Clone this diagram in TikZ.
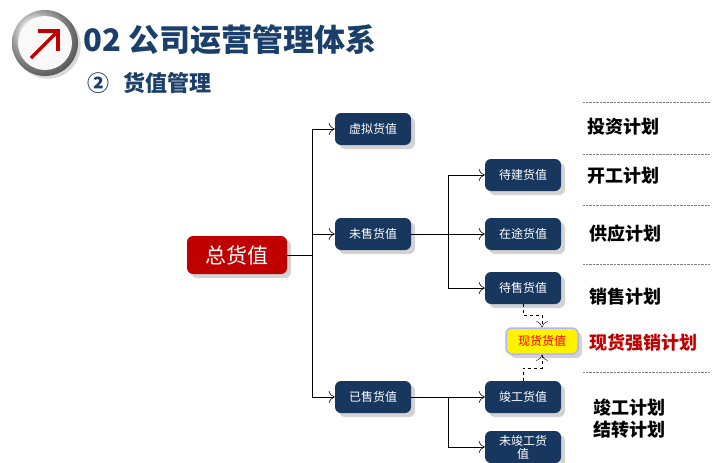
\documentclass[tikz,border=0pt]{standalone}
\usepackage{fontspec}
\setmainfont{Noto Sans CJK SC}
\usetikzlibrary{arrows,arrows.meta,shadows,calc}
\definecolor{navy}{HTML}{17375E}
\definecolor{titleblue}{HTML}{1B3F6B}
\definecolor{boxred}{HTML}{C00000}

\begin{document}
\begin{tikzpicture}[
  x=1pt, y=-1pt,
  font=\small,
  text centered,
  every value/.style={
    rectangle, rounded corners=6pt, fill=navy, text=white,
    minimum width=76pt, minimum height=32pt, font=\fontsize{12}{13}\selectfont,
    drop shadow={shadow xshift=4pt, shadow yshift=-4pt, opacity=.35}
  },
  plan/.style={font=\fontsize{18}{22}\selectfont\bfseries, anchor=west},
  sep/.style={gray, densely dotted},
  link/.style={-{To[length=6pt,width=12pt]}, semithick}
  ]
  \useasboundingbox (0,0) rectangle (718,463);

  % logo and heading
  \shade[ball color=gray!25, drop shadow={opacity=.3}] (45,43) circle (33);
  \fill[gray!5] (45,43) circle (27);
  \draw[boxred, line width=3.5pt] (31,58) -- (57,32);
  \draw[boxred, line width=3.5pt] (38,31) -- (58,31) -- (58,51);
  \node[anchor=west, text=titleblue, font=\fontsize{31}{34}\selectfont\bfseries, inner sep=0pt] (title) at (83,40) {02 公司运营管理体系};
  \node[anchor=west, text=titleblue, font=\fontsize{22}{24}\selectfont\bfseries, inner sep=0pt] (sub) at (87,83) {②\hspace{14pt}货值管理};

  % value tree
  \node[every value, fill=boxred, minimum width=100pt, minimum height=38pt, font=\fontsize{21}{23}\selectfont] (total) at (237,255) {总货值};
  \node[every value] (virtual) at (373,129) {虚拟货值};
  \node[every value] (unsold) at (373,234) {未售货值};
  \node[every value] (sold) at (373,397) {已售货值};
  \node[every value] (tobuild) at (523,175) {待建货值};
  \node[every value] (transit) at (523,234) {在途货值};
  \node[every value] (forsale) at (523,288) {待售货值};
  \node[every value, fill=yellow, text=red, draw=blue!30, line width=1.5pt, minimum width=72pt, minimum height=26pt] (stock) at (542,341) {现货货值};
  \node[every value] (done) at (523,397) {竣工货值};
  \node[every value, align=center, inner sep=1pt] (undone) at (523,447) {未竣工货\\值};

  \coordinate (trunkA) at (312,255);
  \coordinate (trunkB) at (448,234);
  \coordinate (trunkC) at (448,397);
  \draw[thick] (total) -- (trunkA);
  \draw[link] (trunkA) |- (virtual);
  \draw[link] (trunkA) |- (unsold);
  \draw[link] (trunkA) |- (sold);
  \draw[thick] (unsold) -- (trunkB);
  \draw[link] (trunkB) |- (tobuild);
  \draw[link] (trunkB) -- (transit);
  \draw[link] (trunkB) |- (forsale);
  \draw[thick] (sold) -- (trunkC);
  \draw[link] (trunkC) -- (done);
  \draw[link] (trunkC) |- (undone);
  \draw[link, dashed, thin] (forsale.south) -- ++(0,11) -| (stock.north);
  \draw[link, dashed, thin] (done.north) -- ++(0,-13) -| (stock.south);

  % plan column
  \foreach \y in {102,154,205,264,372}
    \draw[sep] (583,\y) -- (710,\y);
  \node[plan] (invest) at (584,127) {投资计划};
  \node[plan] (start) at (584,176) {开工计划};
  \node[plan] (supply) at (586,234) {供应计划};
  \node[plan] (sales) at (586,297) {销售计划};
  \node[plan, text=boxred] (push) at (586,343) {现货强销计划};
  \node[plan, align=left] (finish) at (590,419) {竣工计划\\结转计划};
\end{tikzpicture}
\end{document}
